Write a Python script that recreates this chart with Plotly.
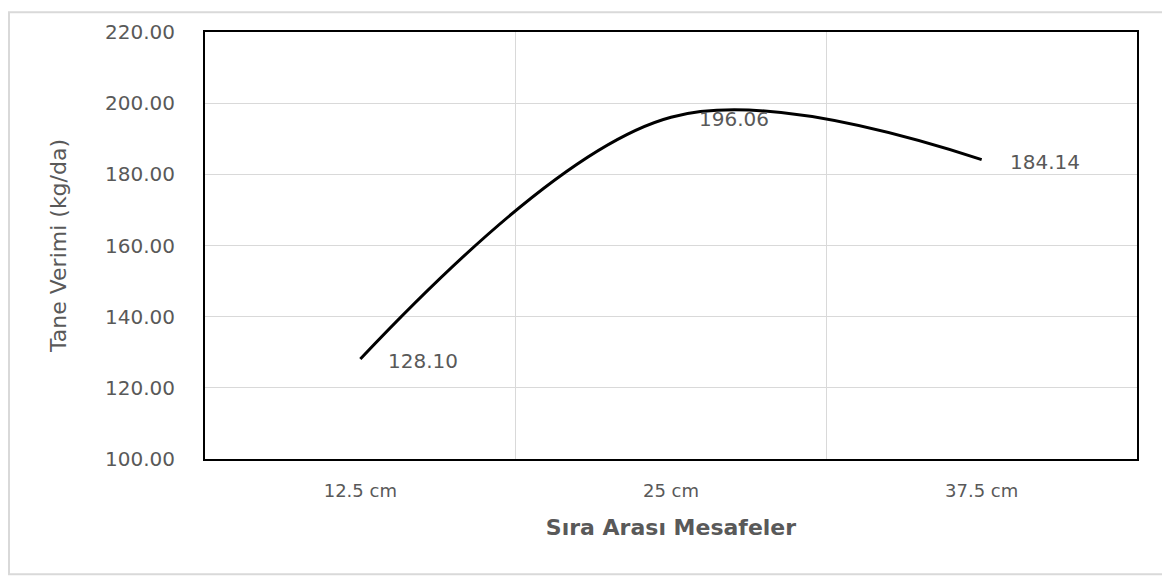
import plotly.graph_objects as go

categories = ["12.5 cm", "25 cm", "37.5 cm"]
values = [128.10, 196.06, 184.14]
y_ticks = [100, 120, 140, 160, 180, 200, 220]

FONT = "DejaVu Sans"
GREY = "#595959"

# page body has an 8px margin; figure is sized so the plot lands where the reference has it
L, T, PW, PH = 197, 21, 932, 430
W, H = 1162, 571

fig = go.Figure()
fig.add_trace(go.Scatter(
    x=categories, y=values, mode="lines",
    line=dict(color="black", width=3, shape="spline", smoothing=1.0),
    hoverinfo="skip", showlegend=False,
))

for c, v in zip(categories, values):
    fig.add_annotation(x=c, y=v, text=f"{v:.2f}", showarrow=False,
                       xanchor="left", yanchor="middle", xshift=26, yshift=-2,
                       font=dict(family=FONT, size=20, color=GREY))

fig.update_layout(
    width=W, height=H,
    margin=dict(l=L, r=W - L - PW, t=T, b=H - T - PH),
    paper_bgcolor="white", plot_bgcolor="white",
    font=dict(family=FONT, color=GREY),
    xaxis=dict(
        type="category", tickson="boundaries", ticks="",
        showgrid=True, gridcolor="#d9d9d9", gridwidth=1,
        showline=True, linecolor="black", linewidth=2, mirror=True,
        tickfont=dict(family=FONT, size=18, color=GREY),
        ticklabelstandoff=14,
        title=dict(text="Sıra Arası Mesafeler", standoff=20,
                   font=dict(family=FONT, size=22, color=GREY, weight="bold")),
        zeroline=False, range=[-0.5, 2.5],
    ),
    yaxis=dict(
        range=[100, 220], tickvals=y_ticks, tickformat=".2f",
        showgrid=True, gridcolor="#d9d9d9", gridwidth=1,
        showline=True, linecolor="black", linewidth=2, mirror=True,
        tickfont=dict(family=FONT, size=20, color=GREY),
        ticklabelstandoff=24, zeroline=False,
        title=dict(text="Tane Verimi (kg/da)", standoff=32,
                   font=dict(family=FONT, size=22, color=GREY)),
    ),
)

fig.add_shape(type="rect", xref="paper", yref="paper",
              x0=(1 - L) / PW, x1=(1155 - L) / PW,
              y0=(T + PH - 567) / PH, y1=(T + PH - 1) / PH,
              line=dict(color="#d9d9d9", width=2), layer="below")

fig.write_html("out.html")
